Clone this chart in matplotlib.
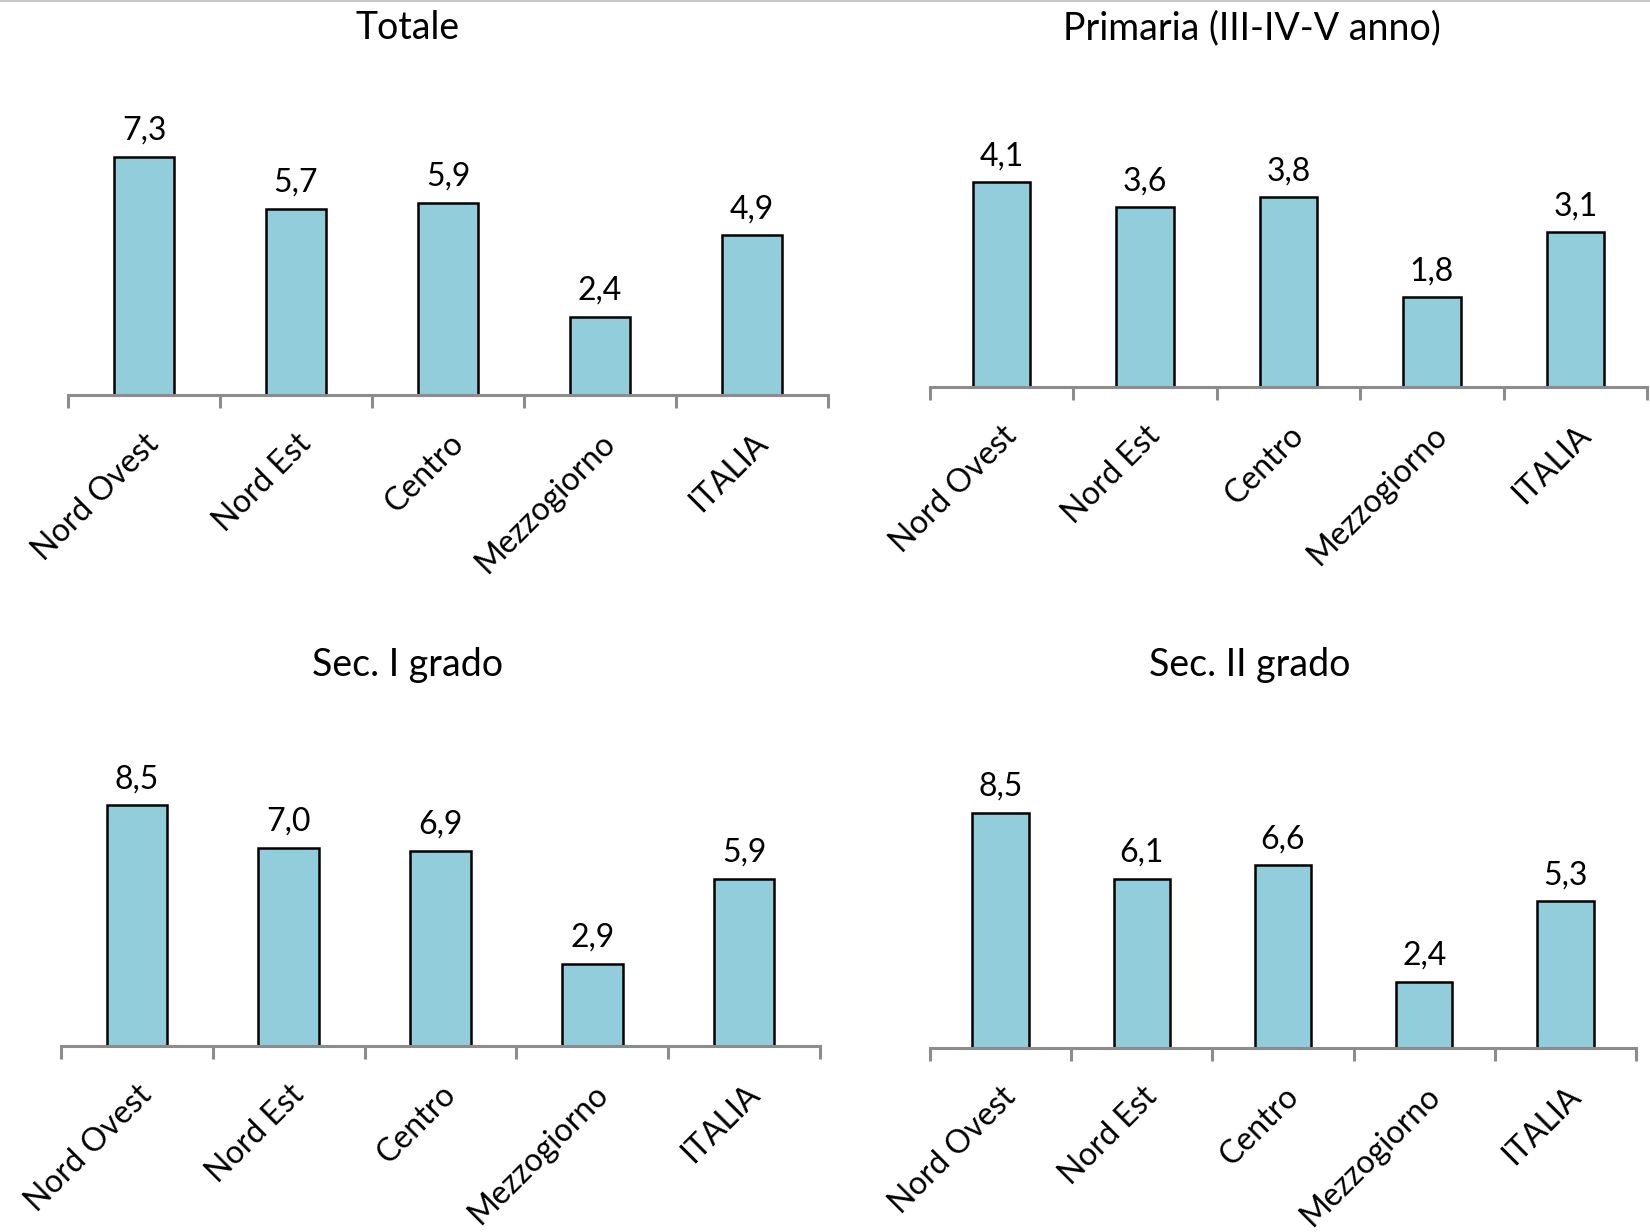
import matplotlib.pyplot as plt
import numpy as np

regioni = ["Nord Ovest", "Nord Est", "Centro", "Mezzogiorno", "ITALIA"]
totale = [7.3, 5.7, 5.9, 2.4, 4.9]
primaria = [4.1, 3.6, 3.8, 1.8, 3.1]
sec_1 = [8.5, 7.0, 6.9, 2.9, 5.9]
sec_2 = [8.5, 6.1, 6.6, 2.4, 5.3]
titoli = ["Totale", "Primaria (III-IV-V anno)", "Sec. I grado", "Sec. II grado"]

plt.rcParams['font.family'] = ['Lato', 'DejaVu Sans']

W, H = 1650, 1232
fig = plt.figure(figsize=(W / 100, H / 100), dpi=100)

# panel layout in pixels: x0, x1, axis y, top y, ymax, title x, title y
panels = [
    (totale, 68, 828, 395, 110, 8.74, 408, 28),
    (primaria, 930, 1647, 387, 110, 5.55, 1252, 28),
    (sec_1, 61, 820, 1046, 760, 10.1, 408, 665),
    (sec_2, 930, 1636, 1048, 760, 10.4, 1250, 665),
]

x = np.arange(len(regioni))
for (vals, x0, x1, ya, yt, ymax, tx, ty), titolo in zip(panels, titoli):
    ax = fig.add_axes([x0 / W, 1 - ya / H, (x1 - x0) / W, (ya - yt) / H])
    ax.bar(x, vals, width=0.4, color="#92CDDC", edgecolor="black", linewidth=1.8, zorder=2)
    ax.set_xlim(-0.5, len(regioni) - 0.5)
    ax.set_ylim(0, ymax)
    for xi, v in zip(x, vals):
        ax.annotate(f"{v:.1f}".replace(".", ","), (xi, v), xytext=(0, 8),
                    textcoords="offset points", ha="center", va="bottom", fontsize=23)
    for s in ["top", "right", "left"]:
        ax.spines[s].set_visible(False)
    ax.spines["bottom"].set_color("#8c8c8c")
    ax.spines["bottom"].set_linewidth(2.2)
    ax.set_yticks([])
    ax.set_xticks(x)
    ax.set_xticklabels(regioni, rotation=45, ha="right", va="top", rotation_mode="anchor", fontsize=23)
    ax.tick_params(axis="x", which="major", length=0, pad=24)
    ax.set_xticks(np.arange(-0.5, len(regioni)), minor=True)
    ax.tick_params(axis="x", which="minor", length=9, width=2.2, color="#8c8c8c", direction="out")
    ax.patch.set_visible(False)
    fig.text(tx / W, 1 - ty / H, titolo, ha="center", va="center", fontsize=27)

fig.add_artist(plt.Line2D([0, 1], [1 - 1 / H, 1 - 1 / H], color="#c8c8c8", linewidth=1.5))

plt.savefig("out.png", dpi=100)
